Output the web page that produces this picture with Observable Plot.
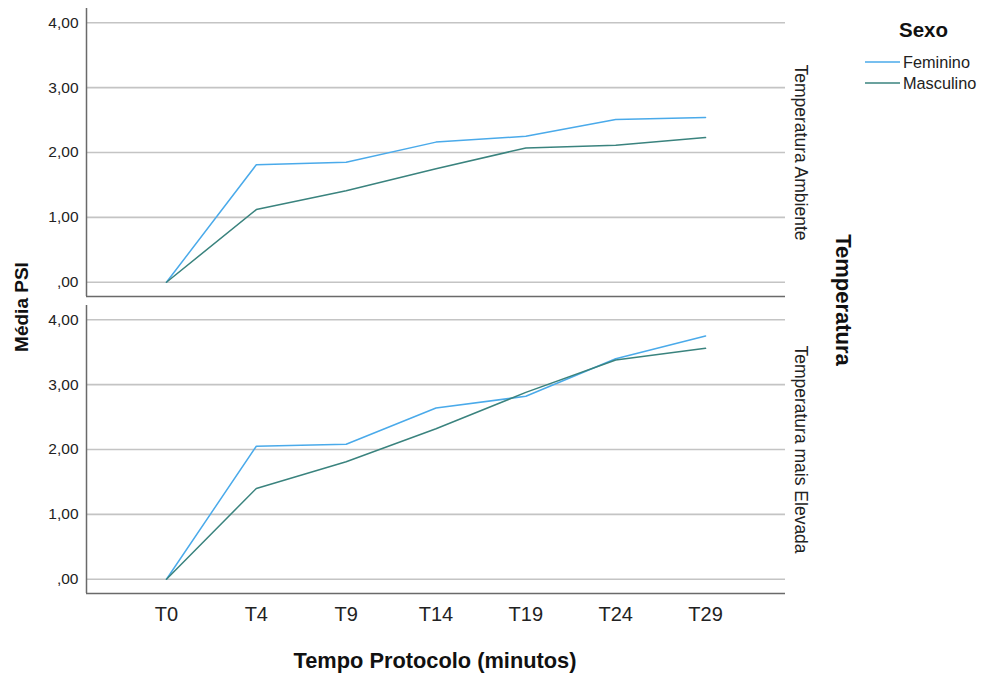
<!DOCTYPE html>
<html>
<head>
<meta charset="utf-8">
<script src="https://cdn.jsdelivr.net/npm/d3@7"></script>
<script src="https://cdn.jsdelivr.net/npm/@observablehq/plot@0.6"></script>
<style>
  html, body { margin: 0; padding: 0; background: #fff; }
  #wrap { position: relative; width: 990px; height: 677px; font-family: "Liberation Sans", Arial, sans-serif; }
  #wrap > svg { position: absolute; left: 0; top: 0; }
</style>
</head>
<body>
<div id="wrap"></div>
<script>
// ---- data ----
const times = ["T0", "T4", "T9", "T14", "T19", "T24", "T29"];
const temps = ["Temperatura Ambiente", "Temperatura mais Elevada"];
const sexos = ["Feminino", "Masculino"];
const ambienteFeminino = [0, 1.81, 1.85, 2.16, 2.25, 2.51, 2.54];
const ambienteMasculino = [0, 1.12, 1.41, 1.75, 2.07, 2.11, 2.23];
const elevadaFeminino = [0, 2.05, 2.08, 2.64, 2.82, 3.40, 3.75];
const elevadaMasculino = [0, 1.40, 1.81, 2.32, 2.88, 3.38, 3.56];
const yTicks = [0, 1, 2, 3, 4];
const yTickLabels = [",00", "1,00", "2,00", "3,00", "4,00"];
const colors = ["#4aaaea", "#3a837e"];

// ---- table ----
const series = [
  [temps[0], sexos[0], ambienteFeminino],
  [temps[0], sexos[1], ambienteMasculino],
  [temps[1], sexos[0], elevadaFeminino],
  [temps[1], sexos[1], elevadaMasculino]
];
const rows = series.flatMap(([temp, sexo, vals]) =>
  vals.map((v, i) => ({temp, sexo, i, value: v})));
const idx = times.map((_, i) => i);
const xDomain = [-0.89, times.length - 1 + 0.89];
const yDomain = [-0.22, 4.22];

const W = 990, H = 677;
const chart = Plot.plot({
  width: W,
  height: H,
  marginLeft: 86,
  marginRight: 205,
  marginTop: 8,
  marginBottom: 83,
  style: {fontFamily: "'Liberation Sans', Arial, sans-serif", color: "#222", background: "transparent"},
  x: {domain: xDomain, axis: null},
  y: {domain: yDomain, axis: null},
  fy: {domain: temps, paddingInner: 0.03, paddingOuter: 0, axis: null},
  color: {domain: sexos, range: colors},
  marks: [
    Plot.gridY(yTicks, {stroke: "#c4c4c4", strokeOpacity: 1, strokeWidth: 1.6}),
    Plot.ruleX([xDomain[0]], {stroke: "#6a6a6a", strokeWidth: 1.5}),
    Plot.ruleY([yDomain[0]], {stroke: "#6a6a6a", strokeWidth: 1.5}),
    Plot.axisY(yTicks, {
      tickSize: 0, tickPadding: 8, fontSize: 15.5, label: null,
      tickFormat: (d) => yTickLabels[yTicks.indexOf(d)]
    }),
    Plot.axisX(idx, {
      tickSize: 0, tickPadding: 13, fontSize: 20, label: null,
      tickFormat: (i) => times[i]
    }),
    Plot.line(rows, {x: "i", y: "value", stroke: "sexo", z: "sexo", fy: "temp", strokeWidth: 1.5, curve: "linear"}),
    Plot.text(temps, {
      fy: (d) => d, text: (d) => d, frameAnchor: "right", dx: 15,
      textAnchor: "middle", lineAnchor: "middle",
      rotate: 90, fontSize: 17.5, fill: "#222"
    })
  ]
});
const wrap = document.getElementById("wrap");
wrap.appendChild(chart);

// ---- overlay: titles and legend ----
const ov = d3.select(wrap).append("svg")
  .attr("width", W).attr("height", H)
  .style("pointer-events", "none")
  .style("font-family", "'Liberation Sans', Arial, sans-serif");

ov.append("text")
  .attr("transform", "translate(28,307) rotate(-90)")
  .attr("text-anchor", "middle")
  .attr("font-weight", "bold").attr("font-size", 19).attr("fill", "#111")
  .text("Média PSI");

ov.append("text")
  .attr("x", 435).attr("y", 668)
  .attr("text-anchor", "middle")
  .attr("font-weight", "bold").attr("font-size", 21.8).attr("fill", "#111")
  .text("Tempo Protocolo (minutos)");

ov.append("text")
  .attr("transform", "translate(836,300) rotate(90)")
  .attr("text-anchor", "middle")
  .attr("font-weight", "bold").attr("font-size", 22).attr("fill", "#111")
  .text("Temperatura");

ov.append("text")
  .attr("x", 899).attr("y", 37)
  .attr("font-weight", "bold").attr("font-size", 20.5).attr("fill", "#111")
  .text("Sexo");

sexos.forEach((s, k) => {
  const y = 62 + k * 21;
  ov.append("line")
    .attr("x1", 865).attr("x2", 900).attr("y1", y).attr("y2", y)
    .attr("stroke", colors[k]).attr("stroke-width", 1.5);
  ov.append("text")
    .attr("x", 903).attr("y", y + 5.5)
    .attr("font-size", 16.3).attr("fill", "#222")
    .text(s);
});
</script>
</body>
</html>
